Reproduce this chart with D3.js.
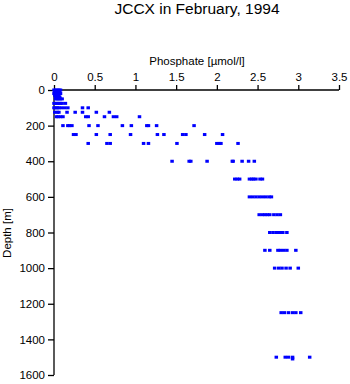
<!DOCTYPE html>
<html><head><meta charset="utf-8">
<script src="https://cdn.jsdelivr.net/npm/d3@7"></script>
<style>body{margin:0;background:#fff}text{font-family:"Liberation Sans",Arial,sans-serif}</style>
</head><body>
<svg id="c" width="350" height="384"></svg>
<script>
const title = "JCCX in February, 1994";
const xLabel = "Phosphate [\u00b5mol/l]";
const yLabel = "Depth [m]";
const xTicks = [0, 0.5, 1, 1.5, 2, 2.5, 3, 3.5];
const yTicks = [0, 200, 400, 600, 800, 1000, 1200, 1400, 1600];
const depthLevels = [0, 10, 20, 30, 40, 50, 75, 100, 125, 150, 200, 250, 300, 400, 500, 600, 700, 800, 900, 1000, 1250, 1500, 1510];
const phosphateByLevel = [
  [0.0, 0.02, 0.04, 0.06, 0.08],
  [0.01, 0.03, 0.05, 0.07],
  [0.0, 0.02, 0.05, 0.08],
  [0.01, 0.03, 0.06],
  [0.02, 0.05, 0.07],
  [0.02, 0.04, 0.06, 0.08, 0.10],
  [0.0, 0.02, 0.04, 0.06, 0.08, 0.10, 0.14],
  [0.0, 0.02, 0.04, 0.06, 0.09, 0.13, 0.17, 0.35, 0.42],
  [0.01, 0.04, 0.06, 0.16, 0.26, 0.35, 0.52, 0.68],
  [0.03, 0.05, 0.08, 0.11, 0.39, 0.42, 0.62, 0.73, 0.77, 1.05],
  [0.11, 0.17, 0.19, 0.22, 0.43, 0.54, 0.84, 0.95, 1.14, 1.16, 1.26, 1.72],
  [0.24, 0.27, 0.52, 0.69, 0.94, 1.27, 1.35, 1.58, 1.62, 1.85, 2.07],
  [0.42, 0.65, 0.69, 1.10, 1.16, 1.51, 2.00, 2.03, 2.05, 2.26],
  [1.45, 1.66, 1.68, 1.88, 2.19, 2.20, 2.31, 2.39, 2.46],
  [2.22, 2.25, 2.28, 2.40, 2.43, 2.45, 2.48, 2.53, 2.56],
  [2.40, 2.44, 2.48, 2.52, 2.56, 2.60, 2.64, 2.67],
  [2.52, 2.56, 2.59, 2.62, 2.65, 2.70, 2.74, 2.78],
  [2.65, 2.69, 2.73, 2.76, 2.78, 2.81, 2.86],
  [2.59, 2.65, 2.75, 2.78, 2.82, 2.86, 2.97],
  [2.71, 2.76, 2.80, 2.85, 2.90, 3.00],
  [2.79, 2.83, 2.88, 2.93, 2.97, 3.03],
  [2.73, 2.84, 2.88, 2.93, 3.14],
  [2.93]
];

const points = [];
depthLevels.forEach((d, i) => phosphateByLevel[i].forEach(v => points.push({d, v})));

const svg = d3.select("#c");
const x = d3.scaleLinear().domain([0, 3.5]).range([54, 339]);
const y = d3.scaleLinear().domain([0, 1600]).range([90, 375]);

svg.append("text").attr("x", 197).attr("y", 14).attr("text-anchor", "middle")
  .attr("font-size", 15.5).text(title);
svg.append("text").attr("x", 197).attr("y", 65).attr("text-anchor", "middle")
  .attr("font-size", 11.5).text(xLabel);
svg.append("text").attr("transform", "translate(11,233) rotate(-90)").attr("text-anchor", "middle")
  .attr("font-size", 11.5).text(yLabel);

const gx = svg.append("g").attr("transform", "translate(0,90)")
  .call(d3.axisTop(x).tickValues(xTicks).tickFormat(d3.format("")).tickSize(5).tickPadding(4));
const gy = svg.append("g").attr("transform", "translate(54,0)")
  .call(d3.axisLeft(y).tickValues(yTicks).tickFormat(d3.format("")).tickSize(6).tickPadding(3));
[gx, gy].forEach(g => {
  g.select(".domain").attr("stroke", "#000").attr("stroke-width", 1.3);
  g.selectAll(".tick line").attr("stroke", "#000").attr("stroke-width", 1.3);
  g.selectAll(".tick text").attr("font-size", 11.5).attr("fill", "#000")
    .attr("font-family", "Liberation Sans, Arial, sans-serif");
});
gx.select(".domain").attr("d", `M${x(0)},0H${x(3.5)}`);
gy.select(".domain").attr("d", `M0,${y(0)}V${y(1600)}`);

svg.append("g").selectAll("rect").data(points).join("rect")
  .attr("x", p => x(p.v) - 1.75).attr("y", p => y(p.d) - 1.5)
  .attr("width", 3.5).attr("height", 3).attr("fill", "#0000ff");
</script>
</body></html>
